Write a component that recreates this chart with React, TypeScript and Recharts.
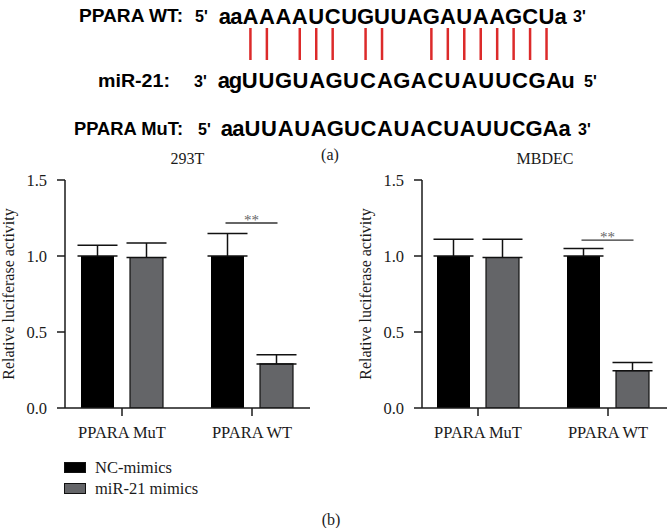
import React from 'react';
import { BarChart, Bar, XAxis, YAxis, ErrorBar, LabelList, Legend } from 'recharts';

// ---------- data ----------
const categories = ['PPARA MuT', 'PPARA WT'];

// 293T
const t293Nc = [1.0, 1.0];
const t293NcErr = [0.07, 0.148];
const t293Mimic = [0.99, 0.29];
const t293MimicErr = [0.095, 0.06];
const t293Sig = [null, 1.217];

// MBDEC
const mbNc = [1.0, 1.0];
const mbNcErr = [0.11, 0.05];
const mbMimic = [0.99, 0.245];
const mbMimicErr = [0.12, 0.055];
const mbSig = [null, 1.104];

const yTicks = [0, 0.5, 1.0, 1.5];

// sequences (panel a)
const WT_SEQ = 'aaAAAAUCUGUUAGAUAAGCUa';
const MIR_SEQ = 'agUUGUAGUCAGACUAUUCGAu';
const MUT_SEQ = 'aaUUAUAGUCAUACUAUUCGAa';

const SERIF = '"Liberation Serif", "Times New Roman", serif';
const SANS = '"Liberation Sans", Arial, sans-serif';
const BAR_SIZE = 33;
const BAR_GAP = 16;
const GREY = '#646568';
const INK = '#1a1a1a';

type Row = { cat: string; nc: number; ncErr: number[]; mimic: number; mimicErr: number[]; sig: number | null };

function buildRows(nc: number[], ncErr: number[], mimic: number[], mimicErr: number[], sig: (number | null)[]): Row[] {
  return categories.map((c, i) => ({
    cat: c,
    nc: nc[i],
    ncErr: [0, ncErr[i]],
    mimic: mimic[i],
    mimicErr: [0, mimicErr[i]],
    sig: sig[i],
  }));
}

const data293 = buildRows(t293Nc, t293NcErr, t293Mimic, t293MimicErr, t293Sig);
const dataMb = buildRows(mbNc, mbNcErr, mbMimic, mbMimicErr, mbSig);

function makeSig(rows: Row[]) {
  return (props: any) => {
    const { x, y, width, height, value } = props;
    if (value == null) return null;
    let idx = props.index;
    if (idx == null) idx = rows.findIndex((r) => r.sig === value);
    const row = rows[idx];
    if (!row) return null;
    const base = Number(y) + Number(height);
    const perUnit = Number(height) / row.mimic;
    const ly = base - value * perUnit;
    const mimicCenter = Number(x) + Number(width) / 2;
    const ncCenter = mimicCenter - Number(width) - BAR_GAP;
    const x1 = ncCenter - 2;
    const x2 = mimicCenter + 1;
    return (
      <g>
        <line x1={x1} x2={x2} y1={ly} y2={ly} stroke="#333" strokeWidth={1.3} />
        <text x={(x1 + x2) / 2} y={ly + 1.5} textAnchor="middle" fontFamily={SERIF} fontSize={15} fill="#666">
          **
        </text>
      </g>
    );
  };
}

const renderLegend = (props: any) => {
  const payload = props.payload || [];
  return (
    <div style={{ fontFamily: SERIF, fontSize: 16.5, color: INK }}>
      {payload.map((e: any, i: number) => (
        <div key={i} style={{ display: 'flex', alignItems: 'center', height: 21 }}>
          <span
            style={{
              display: 'inline-block',
              width: 22,
              height: 11,
              background: e.color,
              border: '1px solid #111',
              boxSizing: 'border-box',
            }}
          />
          <span style={{ marginLeft: 9, lineHeight: '21px' }}>{e.value}</span>
        </div>
      ))}
    </div>
  );
};

function YLabel(props: any) {
  const vb = props.viewBox || {};
  const cy = vb.y + vb.height / 2;
  return (
    <text
      x={14}
      y={cy}
      transform={`rotate(-90, 14, ${cy})`}
      textAnchor="middle"
      fontFamily={SERIF}
      fontSize={16}
      fill={INK}
    >
      Relative luciferase activity
    </text>
  );
}

function Panel(props: {
  rows: Row[];
  width: number;
  height: number;
  marginRight: number;
  marginBottom: number;
  padLeft: number;
  padRight: number;
  withLegend?: boolean;
}) {
  const { rows, width, height, marginRight, marginBottom, padLeft, padRight, withLegend } = props;
  const tickStyle = { fontFamily: SERIF, fontSize: 16.5, fill: INK };
  return (
    <BarChart
      width={width}
      height={height}
      data={rows}
      margin={{ top: 40, right: marginRight, bottom: marginBottom, left: 0 }}
      barSize={BAR_SIZE}
      barGap={BAR_GAP}
    >
      <XAxis
        dataKey="cat"
        height={32}
        tickSize={8}
        tickMargin={10}
        padding={{ left: padLeft, right: padRight }}
        axisLine={{ stroke: INK, strokeWidth: 1.5 }}
        tickLine={{ stroke: INK, strokeWidth: 1.5 }}
        tick={tickStyle}
        interval={0}
      />
      <YAxis
        width={65}
        domain={[0, 1.5]}
        ticks={yTicks}
        tickFormatter={(v: number) => v.toFixed(1)}
        tickSize={8}
        tickMargin={10}
        axisLine={{ stroke: INK, strokeWidth: 1.5 }}
        tickLine={{ stroke: INK, strokeWidth: 1.5 }}
        tick={tickStyle}
        allowDataOverflow
        label={<YLabel />}
      />
      {withLegend && (
        <Legend
          layout="vertical"
          align="center"
          verticalAlign="middle"
          wrapperStyle={{ left: 64, top: 317, width: 220, height: 42 }}
          content={renderLegend}
        />
      )}
      <Bar dataKey="nc" name="NC-mimics" fill="#000" isAnimationActive={false}>
        <ErrorBar dataKey="ncErr" width={20} stroke="#111" strokeWidth={1.5} direction="y" />
      </Bar>
      <Bar dataKey="mimic" name="miR-21 mimics" fill={GREY} stroke="#111" strokeWidth={1.2} isAnimationActive={false}>
        <ErrorBar dataKey="mimicErr" width={20} stroke="#111" strokeWidth={1.5} direction="y" />
        <LabelList dataKey="sig" content={makeSig(rows)} />
      </Bar>
    </BarChart>
  );
}

// layout of letters on a grid: uppercase vs lowercase advance
function centers(seq: string, startX: number, upperW: number, lowerW: number): number[] {
  const out: number[] = [];
  let x = startX;
  for (const ch of seq) {
    const w = ch === ch.toUpperCase() ? upperW : lowerW;
    out.push(x + w / 2);
    x += w;
  }
  return out;
}

const COMP: Record<string, string> = { A: 'U', U: 'A', G: 'C', C: 'G' };

function SeqRow(props: { seq: string; startX: number; upperW: number; baseline: number }) {
  const cs = centers(props.seq, props.startX, props.upperW, 11.6);
  return (
    <g>
      {props.seq.split('').map((ch, i) => (
        <text
          key={i}
          x={cs[i]}
          y={props.baseline}
          textAnchor="middle"
          fontFamily={SANS}
          fontWeight="bold"
          fontSize={22}
          fill="#000"
        >
          {ch}
        </text>
      ))}
    </g>
  );
}

function PanelA() {
  const wtCenters = centers(WT_SEQ, 219, 16.45, 11.6);
  const pairs: number[] = [];
  for (let i = 0; i < WT_SEQ.length; i++) {
    const a = WT_SEQ[i];
    const b = MIR_SEQ[i];
    if (a === a.toUpperCase() && b === b.toUpperCase() && COMP[a] === b) pairs.push(i);
  }
  const lab = { fontFamily: SANS, fontWeight: 'bold' as const, fill: '#000' };
  return (
    <g>
      <text x={79} y={21.5} fontSize={18} textLength={104} lengthAdjust="spacingAndGlyphs" {...lab}>PPARA WT:</text>
      <text x={195} y={21.5} fontSize={16} {...lab}>5'</text>
      <SeqRow seq={WT_SEQ} startX={219} upperW={16.45} baseline={23.5} />
      <text x={573} y={21.5} fontSize={16} {...lab}>3'</text>

      {pairs.map((i) => (
        <line key={i} x1={wtCenters[i]} x2={wtCenters[i]} y1={28} y2={60} stroke="#dc2a2a" strokeWidth={2.5} />
      ))}

      <text x={98} y={87} fontSize={18} textLength={72} lengthAdjust="spacingAndGlyphs" {...lab}>miR-21:</text>
      <text x={194} y={87} fontSize={16} {...lab}>3'</text>
      <SeqRow seq={MIR_SEQ} startX={218} upperW={16.9} baseline={87.5} />
      <text x={584} y={87} fontSize={16} {...lab}>5'</text>

      <text x={74} y={135} fontSize={18} textLength={109} lengthAdjust="spacingAndGlyphs" {...lab}>PPARA MuT:</text>
      <text x={198} y={135} fontSize={16} {...lab}>5'</text>
      <SeqRow seq={MUT_SEQ} startX={221} upperW={16.56} baseline={135.5} />
      <text x={578} y={135} fontSize={16} {...lab}>3'</text>

      <text x={330} y={159.5} textAnchor="middle" fontFamily={SERIF} fontSize={16} fill={INK}>(a)</text>
    </g>
  );
}

export default function App() {
  return (
    <div style={{ position: 'absolute', left: 0, top: 0, width: 667, height: 528, background: '#fff', overflow: 'hidden' }}>
      <svg width={667} height={528} style={{ position: 'absolute', left: 0, top: 0 }}>
        <PanelA />
        <text x={187.5} y={164} textAnchor="middle" fontFamily={SERIF} fontSize={16} fill={INK}>293T</text>
        <text x={545} y={164} textAnchor="middle" fontFamily={SERIF} fontSize={16} fill={INK}>MBDEC</text>
        <text x={331} y={525} textAnchor="middle" fontFamily={SERIF} fontSize={16} fill={INK}>(b)</text>
      </svg>
      <div style={{ position: 'absolute', left: 0, top: 140 }}>
        <Panel rows={data293} width={330} height={380} marginRight={20} marginBottom={80} padLeft={-8} padRight={-7} withLegend />
      </div>
      <div style={{ position: 'absolute', left: 357, top: 140 }}>
        <Panel rows={dataMb} width={310} height={330} marginRight={0} marginBottom={30} padLeft={-9} padRight={-6} />
      </div>
    </div>
  );
}
